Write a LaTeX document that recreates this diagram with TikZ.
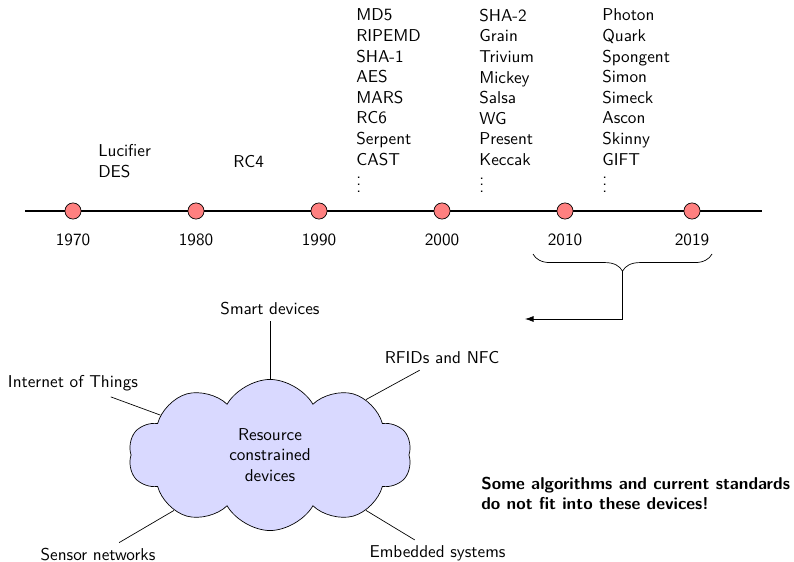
\documentclass[tikz,border=0pt]{standalone}
\usetikzlibrary{shapes.symbols,decorations.pathreplacing,arrows.meta,calc}
\begin{document}
\begin{tikzpicture}[x=0.5825pt,y=-0.5825pt,font=\sffamily,
  yeardot/.style={circle,draw=black,fill=red!50,inner sep=0pt,minimum size=9.4pt,line width=0.4pt},
  algolist/.style={align=left,anchor=north west,inner sep=0pt},
  appl/.style={inner sep=3.33pt},
  link/.style={draw=black,line width=0.4pt}]
\useasboundingbox (0,0) rectangle (794,562);

% time axis
\coordinate (tlL) at (25,211);
\coordinate (tlR) at (762,211);
\draw[line width=1pt] (tlL) -- (tlR);
\foreach \x/\yr in {73/1970,196/1980,319/1990,442/2000,565/2010,692/2019}{
  \node[yeardot] (d\yr) at (\x,211) {};
  \node (y\yr) at (\x,240) {\yr};
}

% algorithms per decade
\node[algolist] (a1970) at (98,144.5) {Lucifier\\DES};
\node[anchor=base west,inner sep=0pt] (a1980) at (233,167.3) {RC4};
\node[algolist] (a1990) at (356,8.6) {MD5\\RIPEMD\\SHA-1\\AES\\MARS\\RC6\\Serpent\\CAST\\$\vdots$};
\node[algolist] (a2000) at (479,8.6) {SHA-2\\Grain\\Trivium\\Mickey\\Salsa\\WG\\Present\\Keccak\\$\vdots$};
\node[algolist] (a2010) at (602,8.6) {Photon\\Quark\\Spongent\\Simon\\Simeck\\Ascon\\Skinny\\GIFT\\$\vdots$};

% brace over the last decade and arrow
\coordinate (bL) at (533,254);
\coordinate (bR) at (712,254);
\draw[decorate,decoration={brace,amplitude=10pt,mirror}] (bL) -- (bR);
\coordinate (bT) at ($(bL)!0.5!(bR)+(0,17.2)$);
\coordinate (arr) at (525,319);
\draw[-{Latex[length=5pt,width=3.5pt]}] (bT) |- (arr);

% constrained devices
\node[cloud,cloud puffs=10,cloud puff arc=120,aspect=1.9,draw,fill=blue!15,
      minimum width=165pt,minimum height=88pt,align=center] (rc) at (270,455)
      {Resource\\constrained\\devices};

\node[appl] (smart) at (270,309) {Smart devices};
\node[appl] (iot) at (73,383) {Internet of Things};
\node[appl] (rfid) at (442,358) {RFIDs and NFC};
\node[appl] (sensor) at (98,555) {Sensor networks};
\node[appl] (embed) at (437.5,553.7) {Embedded systems};

\draw[link] (smart) -- (rc.north);
\draw[link] (iot) -- (rc.160);
\draw[link] (rfid) -- (rc.30);
\draw[link] (sensor) -- (rc.210);
\draw[link] (embed) -- (rc.330);

\node[algolist,font=\sffamily\bfseries] (note) at (481,476.7)
  {Some algorithms and current standards\\do not fit into these devices!};
\end{tikzpicture}
\end{document}
